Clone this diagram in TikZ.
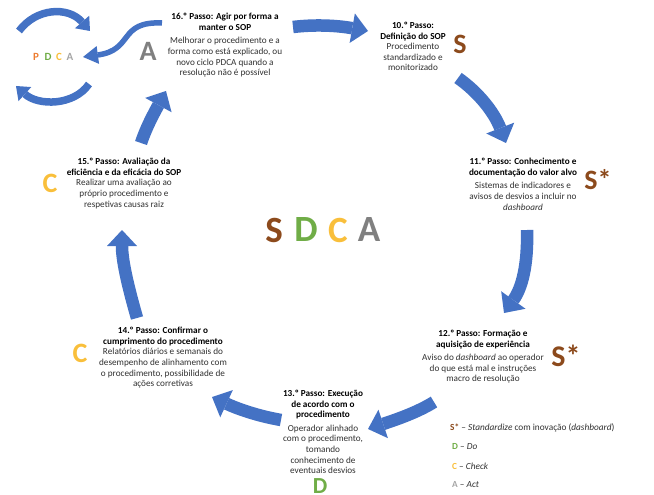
\documentclass[tikz,border=0pt]{standalone}
\usepackage{fontspec}
\setmainfont{Carlito}
\usetikzlibrary{arrows.meta}
\definecolor{arrowblue}{HTML}{4472C4}
\definecolor{sbrown}{HTML}{8C4A1C}
\definecolor{dgreen}{HTML}{70AD47}
\definecolor{cyellow}{HTML}{F9BF3B}
\definecolor{agray}{HTML}{808080}
\definecolor{lgray}{HTML}{A5A5A5}
\definecolor{porange}{HTML}{ED7D31}
\definecolor{bodytext}{HTML}{303030}
\newcommand\stitle[1]{{\bfseries\color{black}#1}}
\tikzset{
  stepnode/.style={anchor=north, align=center, inner sep=0pt, text=bodytext,
    font=\fontsize{9.2}{10.6}\selectfont},
  bigletter/.style={inner sep=0pt, font=\bfseries\fontsize{28}{28}\selectfont},
  centerletter/.style={inner sep=0pt, font=\bfseries\fontsize{37}{37}\selectfont},
  pdcaletter/.style={inner sep=0pt, font=\bfseries\fontsize{11}{11}\selectfont},
  legend/.style={anchor=west, inner sep=0pt, text=bodytext, font=\fontsize{9.3}{11}\selectfont},
  blockarrow/.style={draw=arrowblue, line width=12.5pt,
    -{Triangle[width=30pt,length=16pt,line width=0pt]}},
  thinarrow/.style={draw=arrowblue, line width=5.5pt,
    -{Triangle[width=18pt,length=15pt,line width=0pt]}},
  pdcaarrow/.style={draw=arrowblue, line width=7.5pt,
    -{Triangle[width=19pt,length=12pt,line width=0pt]}},
}
\begin{document}
\begin{tikzpicture}[x=1pt,y=-1pt]
\useasboundingbox (0,0) rectangle (654,495);
\clip (0,0) rectangle (654,495);

% step texts
\node[stepnode] (s16) at (225,13) {\stitle{16.º Passo: Agir por forma a}\\\stitle{manter o SOP}\\[3pt]Melhorar o procedimento e a\\forma como está explicado, ou\\novo ciclo PDCA quando a\\resolução não é possível};
\node[stepnode] (s10) at (413,22) {\stitle{10.º Passo:}\\\stitle{Definição do SOP}\\Procedimento\\standardizado e\\monitorizado};
\node[stepnode] (s11) at (523,158) {\stitle{11.º Passo: Conhecimento e}\\\stitle{documentação do valor alvo}\\[3pt]Sistemas de indicadores e\\avisos de desvios a incluir no\\\textit{dashboard}};
\node[stepnode] (s12) at (483,330) {\stitle{12.º Passo: Formação e}\\\stitle{aquisição de experiência}\\[3pt]Aviso do \textit{dashboard} ao operador\\do que está mal e instruções\\macro de resolução};
\node[stepnode] (s13) at (323,390) {\stitle{13.º Passo: Execução}\\\stitle{de acordo com o}\\\stitle{procedimento}\\[3pt]Operador alinhado\\com o procedimento,\\tomando\\conhecimento de\\eventuais desvios};
\node[stepnode] (s14) at (163,327) {\stitle{14.º Passo: Confirmar o}\\\stitle{cumprimento do procedimento}\\Relatórios diários e semanais do\\desempenho de alinhamento com\\o procedimento, possibilidade de\\ações corretivas};
\node[stepnode] (s15) at (124,158) {\stitle{15.º Passo: Avaliação da}\\\stitle{eficiência e da eficácia do SOP}\\Realizar uma avaliação ao\\próprio procedimento e\\respetivas causas raiz};

% big letters
\node[bigletter, text=agray] (L16) at (148,51) {A};
\node[bigletter, text=sbrown] (L10) at (460,44) {S};
\node[bigletter, text=sbrown] (L11) at (598,180) {S*};
\node[bigletter, text=sbrown, font=\bfseries\fontsize{30}{30}\selectfont] (L12) at (566,356) {S*};
\node[bigletter, text=dgreen, font=\bfseries\fontsize{23}{23}\selectfont] (L13) at (320,486.5) {D};
\node[bigletter, text=cyellow] (L14) at (80,353) {C};
\node[bigletter, text=cyellow] (L15) at (50,183) {C};

% centre SDCA
\node[centerletter, text=sbrown] (cS) at (274,230) {S};
\node[centerletter, text=dgreen] (cD) at (306,230) {D};
\node[centerletter, text=cyellow] (cC) at (338,230) {C};
\node[centerletter, text=agray] (cA) at (369,230) {A};

% small PDCA
\node[pdcaletter, text=porange] (pP) at (36,57) {P};
\node[pdcaletter, text=dgreen] (pD) at (48,57) {D};
\node[pdcaletter, text=cyellow] (pC) at (59,57) {C};
\node[pdcaletter, text=lgray] (pA) at (70,57) {A};

% legend
\node[legend] (lg1) at (450,428) {\textcolor{sbrown}{\textbf{S*}} – \textit{Standardize} com inovação (\textit{dashboard})};
\node[legend] (lg2) at (452,447) {\textcolor{dgreen}{\textbf{D}} – \textit{Do}};
\node[legend] (lg3) at (452,466) {\textcolor{cyellow}{\textbf{C}} – \textit{Check}};
\node[legend] (lg4) at (452,485) {\textcolor{lgray}{\textbf{A}} – \textit{Act}};

% arrow end points
\coordinate (a1s) at (293,27);  \coordinate (a1e) at (368,31);
\coordinate (a2s) at (458,78);  \coordinate (a2e) at (506,143);
\coordinate (a3s) at (527,230); \coordinate (a3e) at (504,313);
\coordinate (a4s) at (434,402); \coordinate (a4e) at (368,429);
\coordinate (a5s) at (281,420); \coordinate (a5e) at (212,397);
\coordinate (a6s) at (137,318); \coordinate (a6e) at (122,230);
\coordinate (a7s) at (141,143); \coordinate (a7e) at (166,91);
\coordinate (a8s) at (162,23);  \coordinate (a8e) at (83,57);
\coordinate (a9s) at (19,31);   \coordinate (a9e) at (90,31);
\coordinate (a10s) at (89,84);  \coordinate (a10e) at (16,86);

% cycle arrows
\draw[blockarrow] (a1s) .. controls (318,24) and (340,26) .. (a1e);
\draw[blockarrow] (a2s) .. controls (478,92) and (494,112) .. (a2e);
\draw[blockarrow] (a3s) .. controls (528,265) and (522,288) .. (a3e);
\draw[blockarrow] (a4s) .. controls (418,412) and (398,419) .. (a4e);
\draw[blockarrow] (a5s) .. controls (258,416) and (238,409) .. (a5e);
\draw[blockarrow] (a6s) .. controls (129,290) and (122,262) .. (a6e);
\draw[blockarrow] (a7s) .. controls (146,128) and (153,115) .. (a7e);
% to PDCA
\draw[thinarrow] (a8s) .. controls (118,21) and (134,50) .. (a8e);
% PDCA loop
\draw[pdcaarrow] (a9s) .. controls (36,8) and (68,6) .. (a9e);
\draw[pdcaarrow] (a10s) .. controls (74,106) and (38,106) .. (a10e);
\end{tikzpicture}
\end{document}
